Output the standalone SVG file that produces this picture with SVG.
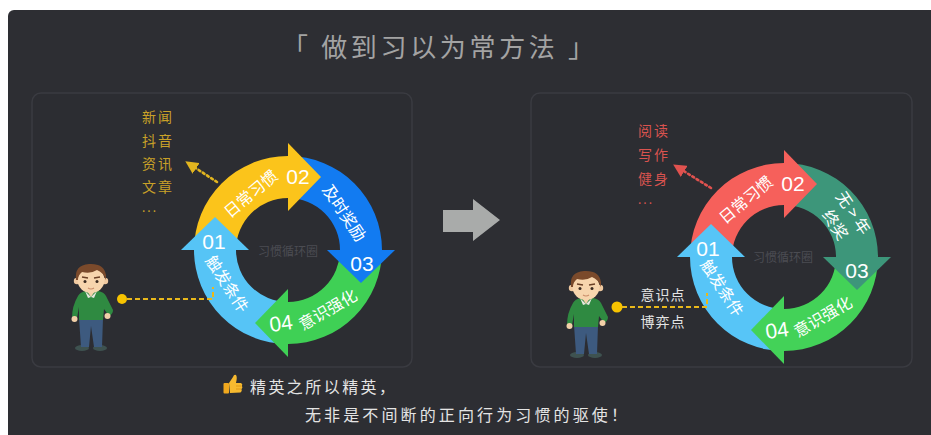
<svg xmlns="http://www.w3.org/2000/svg" xmlns:xlink="http://www.w3.org/1999/xlink" width="931" height="435" viewBox="0 0 931 435">
  <style>
    .cjk { font-family: "Noto Sans CJK SC", "Noto Sans", sans-serif; }
    .num { font-family: "Liberation Sans", "Noto Sans", sans-serif; fill: #ffffff; font-size: 21px; text-anchor: middle; }
    .seg { font-family: "Noto Sans CJK SC", sans-serif; fill: #ffffff; font-size: 16px; text-anchor: middle; }
    .hub { font-family: "Noto Sans CJK SC", sans-serif; fill: #4b4c52; font-size: 12px; text-anchor: middle; }
    .panel { fill: #2c2d32; stroke: #3a3b41; stroke-width: 1.5; }
    .gold { fill: #c9a128; font-size: 14px; }
    .rose { fill: #d9534f; font-size: 14px; }
    .light { fill: #e4e4e4; }
    .dash { fill: none; stroke: #e9b81b; stroke-width: 2; stroke-dasharray: 5 3; }
    .dot { fill: #f7c300; }
  </style>
  <defs>
    <marker id="headGold" viewBox="0 0 10 10" refX="2" refY="5" markerWidth="5" markerHeight="5" orient="auto">
      <path d="M0,0 L10,5 L0,10 Z" fill="#e2b51f"/>
    </marker>
    <marker id="headRose" viewBox="0 0 10 10" refX="2" refY="5" markerWidth="5" markerHeight="5" orient="auto">
      <path d="M0,0 L10,5 L0,10 Z" fill="#e0524f"/>
    </marker>
    <!-- cartoon man: brown hair, green sweater, jeans -->
    <symbol id="man" viewBox="0 0 46 90" width="46" height="90">
      <ellipse cx="13" cy="85" rx="7" ry="3" fill="#3e5250"/>
      <ellipse cx="31" cy="85" rx="7" ry="3" fill="#3e5250"/>
      <path d="M10,55 L34,55 L33,84 L25,84 L22,63 L20,84 L12,84 Z" fill="#3d5a7f"/>
      <path d="M9,33 Q11,29 17,28 L29,28 Q35,29 37,33 L44,47 Q44,51 40,53 L35,46 L34,57 L10,57 L10,44 L8,55 L3,55 Q3,43 9,33 Z" fill="#2f8a41"/>
      <path d="M18,28 L22,34 L26,28 Z" fill="#f2d0a8"/>
      <path d="M16,28 L22,34 L19,35 Z M28,28 L22,34 L25,35 Z" fill="#e6e6de"/>
      <circle cx="5.5" cy="56" r="3" fill="#f2d0a8"/>
      <circle cx="38.5" cy="53" r="3" fill="#f2d0a8"/>
      <rect x="18" y="23" width="8" height="6" fill="#e9c49a"/>
      <circle cx="8" cy="18" r="3.2" fill="#f0c9a0"/>
      <circle cx="36" cy="18" r="3.2" fill="#f0c9a0"/>
      <ellipse cx="22" cy="17" rx="13.5" ry="13" fill="#f7d5ad"/>
      <path d="M7,17 Q5,2 20,1 Q35,0 37,12 L37,17 Q34,9 28,7 Q22,11 13,9 Q9,12 9,17 Z" fill="#7b4a2b"/>
      <path d="M13,14 L19,15 M25,15 L31,14" stroke="#6a4026" stroke-width="1.3" fill="none"/>
      <circle cx="16" cy="18.5" r="1.5" fill="#3a2a20"/>
      <circle cx="28" cy="18.5" r="1.5" fill="#3a2a20"/>
      <path d="M19,25 Q22,27 25,25" stroke="#c98d6a" stroke-width="1.1" fill="none"/>
    </symbol>
  </defs>

  <!-- canvas -->
  <rect x="0" y="0" width="931" height="435" fill="#ffffff"/>
  <rect x="8" y="10" width="940" height="440" rx="6" fill="#2d2e33"/>

  <!-- heading -->
  <text x="282" y="57" class="cjk" font-size="26" fill="#a3a3a3" textLength="312" lengthAdjust="spacing">「 做到习以为常方法 」</text>

  <!-- panels -->
  <rect id="panel-left" class="panel" x="32" y="93" width="380" height="274" rx="9"/>
  <rect id="panel-right" class="panel" x="531" y="93" width="381" height="274" rx="9"/>

  <!-- transition arrow -->
  <g id="shift-arrow">
    <path d="M443,210 L473,210 L473,199 L500,220 L473,241 L473,232 L443,232 Z" fill="#a9abaa"/>
  </g>

  <!-- left: habit cycle -->
  <g id="cycle-left" transform="translate(288,250)">
    <path d="M-94,0 A94,94 0 0 1 0,-94 L0,-52 A52,52 0 0 0 -52,0 Z" fill="#fbc41b"/>
    <path d="M0,-94 A94,94 0 0 1 94,0 L52,0 A52,52 0 0 0 0,-52 Z" fill="#127bf1"/>
    <path d="M94,0 A94,94 0 0 1 0,94 L0,52 A52,52 0 0 0 52,0 Z" fill="#3fd055"/>
    <path d="M0,94 A94,94 0 0 1 -94,0 L-52,0 A52,52 0 0 0 0,52 Z" fill="#56c4f6"/>
    <path d="M0,-107 L33,-73 L0,-39 Z" fill="#fbc41b"/>
    <path d="M107,0 L73,33 L39,0 Z" fill="#127bf1"/>
    <path d="M0,107 L-33,73 L0,39 Z" fill="#3fd055"/>
    <path d="M-107,0 L-73,-33 L-39,0 Z" fill="#56c4f6"/>
    <text class="seg" transform="translate(-37,-56) rotate(-40)" dy="0.35em">日常习惯</text>
    <text class="num" x="10" y="-74" dy="0.36em" font-size="22">02</text>
    <text class="seg" transform="translate(56,-37) rotate(56)" dy="0.35em">及时奖励</text>
    <text class="num" x="74" y="13" dy="0.36em" font-size="22">03</text>
    <text class="num" transform="translate(-7,73) rotate(-8)" dy="0.36em">04</text>
    <text class="seg" transform="translate(40,60) rotate(-30)" dy="0.35em">意识强化</text>
    <text class="num" x="-74" y="-9" dy="0.36em">01</text>
    <text class="seg" transform="translate(-61,34) rotate(57)" dy="0.35em">触发条件</text>
    <text class="hub" x="0" y="2" dy="0.35em">习惯循环圈</text>
  </g>

  <!-- right: habit cycle -->
  <g id="cycle-right" transform="translate(784,257)">
    <path d="M-94,0 A94,94 0 0 1 0,-94 L0,-52 A52,52 0 0 0 -52,0 Z" fill="#f6605b"/>
    <path d="M0,-94 A94,94 0 0 1 94,0 L52,0 A52,52 0 0 0 0,-52 Z" fill="#3d967a"/>
    <path d="M94,0 A94,94 0 0 1 0,94 L0,52 A52,52 0 0 0 52,0 Z" fill="#43d258"/>
    <path d="M0,94 A94,94 0 0 1 -94,0 L-52,0 A52,52 0 0 0 0,52 Z" fill="#57c5f7"/>
    <path d="M0,-107 L33,-73 L0,-39 Z" fill="#f6605b"/>
    <path d="M107,0 L73,33 L39,0 Z" fill="#3d967a"/>
    <path d="M0,107 L-33,73 L0,39 Z" fill="#43d258"/>
    <path d="M-107,0 L-73,-33 L-39,0 Z" fill="#57c5f7"/>
    <text class="seg" transform="translate(-38,-57) rotate(-40)" dy="0.35em">日常习惯</text>
    <text class="num" x="9" y="-74" dy="0.36em" font-size="22">02</text>
    <text class="seg" transform="translate(69,-44) rotate(56)" dy="0.35em">无 &gt; 年</text>
    <text class="seg" transform="translate(51,-32) rotate(56)" dy="0.35em">终奖</text>
    <text class="num" x="73" y="13" dy="0.36em" font-size="22">03</text>
    <text class="num" transform="translate(-7,73) rotate(-8)" dy="0.36em">04</text>
    <text class="seg" transform="translate(39,60) rotate(-30)" dy="0.35em">意识强化</text>
    <text class="num" x="-76" y="-9" dy="0.36em">01</text>
    <text class="seg" transform="translate(-62,31) rotate(57)" dy="0.35em">触发条件</text>
    <text class="hub" x="-1" y="1" dy="0.35em">习惯循环圈</text>
  </g>

  <!-- left: distractions list -->
  <g id="list-left" class="cjk gold">
    <text x="142" y="122" textLength="30" lengthAdjust="spacing">新闻</text>
    <text x="142" y="146" textLength="30" lengthAdjust="spacing">抖音</text>
    <text x="142" y="169" textLength="30" lengthAdjust="spacing">资讯</text>
    <text x="142" y="192" textLength="30" lengthAdjust="spacing">文章</text>
    <text x="142" y="212" font-size="12" letter-spacing="2">...</text>
  </g>

  <!-- right: good habits list -->
  <g id="list-right" class="cjk rose">
    <text x="638" y="136" textLength="30" lengthAdjust="spacing">阅读</text>
    <text x="638" y="160" textLength="30" lengthAdjust="spacing">写作</text>
    <text x="638" y="184" textLength="30" lengthAdjust="spacing">健身</text>
    <text x="638" y="204" font-size="12" letter-spacing="2">...</text>
  </g>

  <!-- people -->
  <g id="person-left"><use xlink:href="#man" href="#man" x="69" y="263"/></g>
  <g id="person-right"><use xlink:href="#man" href="#man" x="564" y="270"/></g>

  <!-- trigger labels -->
  <g id="trigger-labels" class="cjk light">
    <text x="663" y="300" font-size="14" text-anchor="middle" letter-spacing="1">意识点</text>
    <text x="663" y="327" font-size="14" text-anchor="middle" letter-spacing="1">博弈点</text>
  </g>

  <!-- connectors -->
  <g id="connectors">
    <path d="M217,182 L194,167" fill="none" stroke="#e2b51f" stroke-width="2.6" stroke-dasharray="2 3" stroke-linecap="round" marker-end="url(#headGold)"/>
    <path d="M711,188 L682,170" fill="none" stroke="#e0524f" stroke-width="2.6" stroke-dasharray="2 3" stroke-linecap="round" marker-end="url(#headRose)"/>
    <circle class="dot" cx="122" cy="299" r="5"/>
    <path class="dash" d="M127,299 L213,299 L213,287"/>
    <circle class="dot" cx="617" cy="307" r="5.5"/>
    <path class="dash" d="M622,307 L707,307 L707,293"/>
  </g>

  <!-- closing remark -->
  <g id="remark">
    <g id="thumb">
      <path d="M229,383 L233,377 Q234,374 236,375 Q237.5,377 236,383 L241,383 Q243,384 242,386 Q243,388 241.5,389 Q242.5,391 240.5,392.5 L230,393 Z" fill="#f6b92f"/>
      <rect x="223.5" y="383" width="5.5" height="10.5" rx="1" fill="#f0a81e"/>
      <path d="M236,386 L241.5,386 M236,389 L241,389" stroke="#d98f12" stroke-width="0.8"/>
    </g>
    <text x="250" y="393" class="cjk light" font-size="16" textLength="145" lengthAdjust="spacing">精英之所以精英，</text>
    <text x="305" y="421" class="cjk light" font-size="16" textLength="322" lengthAdjust="spacing">无非是不间断的正向行为习惯的驱使！</text>
  </g>
</svg>
